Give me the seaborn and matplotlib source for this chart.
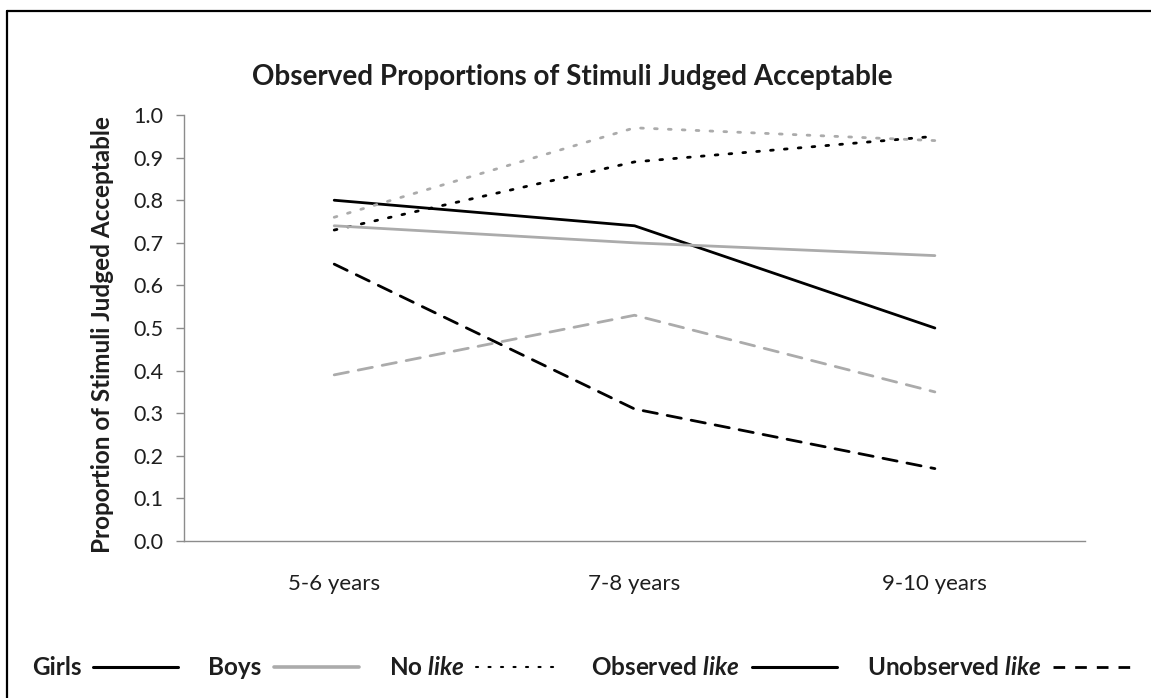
import numpy as np
import pandas as pd
import matplotlib
matplotlib.use("Agg")
import matplotlib.pyplot as plt
from matplotlib.lines import Line2D
import seaborn as sns

# values
age_groups = ["5-6 years", "7-8 years", "9-10 years"]
girls_no_like = [0.73, 0.89, 0.95]
girls_observed = [0.80, 0.74, 0.50]
girls_unobserved = [0.65, 0.31, 0.17]
boys_no_like = [0.76, 0.97, 0.94]
boys_observed = [0.74, 0.70, 0.67]
boys_unobserved = [0.39, 0.53, 0.35]

genders = ["Girls", "Boys"]
conditions = ["No like", "Observed like", "Unobserved like"]

rows = []
for g, series in zip(genders, [[girls_no_like, girls_observed, girls_unobserved],
                               [boys_no_like, boys_observed, boys_unobserved]]):
    for c, vals in zip(conditions, series):
        for a, v in zip(age_groups, vals):
            rows.append({"age": a, "gender": g, "condition": c, "prop": v})
df = pd.DataFrame(rows)

sns.set_theme(style="white")
plt.rcParams["font.family"] = ["Lato", "DejaVu Sans"]
plt.rcParams["mathtext.fontset"] = "custom"
plt.rcParams["mathtext.it"] = "Lato:italic:bold"
plt.rcParams["mathtext.rm"] = "Lato:bold"

BLACK = "#000000"
GRAY = "#ababab"
AXIS_GRAY = "#8c8c8c"
TEXT = "#1e1e1e"
palette = {"Girls": BLACK, "Boys": GRAY}
dashes = {"No like": (1, 4), "Observed like": "", "Unobserved like": (5.2, 3.6)}

fig = plt.figure(figsize=(11.51, 6.98), dpi=100)
ax = fig.add_axes([0.1599, 0.2249, 0.7828, 0.6103])

sns.lineplot(data=df, x="age", y="prop", hue="gender", style="condition",
             palette=palette, dashes=dashes, linewidth=2.0, ax=ax,
             legend=False, sort=False)
for ln in ax.get_lines():
    ln.set_dash_capstyle("round")

ax.set_xlim(-0.5, 2.5)
ax.set_ylim(0, 1.0)
yt = np.arange(0, 1.01, 0.1)
ax.set_yticks(yt)
ax.set_yticklabels([f"{v:.1f}" for v in yt])
ax.set_xticks(range(len(age_groups)))
ax.set_xticklabels(age_groups)
ax.set_xticks([-0.5, 0.5, 1.5, 2.5], minor=True)
ax.tick_params(axis="x", which="major", length=0, pad=24, labelsize=16,
               labelcolor=TEXT)
ax.tick_params(axis="x", which="minor", length=6, width=1, color=AXIS_GRAY,
               direction="out")
ax.tick_params(axis="y", which="major", length=6, width=1, color=AXIS_GRAY,
               direction="out", left=True, labelsize=15.5, pad=9,
               labelcolor=TEXT)
ax.set_xlabel("")
ax.set_ylabel("")
for side in ["top", "right"]:
    ax.spines[side].set_visible(False)
for side in ["left", "bottom"]:
    ax.spines[side].set_color(AXIS_GRAY)
    ax.spines[side].set_linewidth(1.0)

fig.text(0.497, 1 - 85 / 698, "Observed Proportions of Stimuli Judged Acceptable",
         ha="center", va="baseline", fontsize=20, fontweight="bold",
         color=TEXT)
fig.text(103 / 1151, 0.5208, "Proportion of Stimuli Judged Acceptable",
         ha="center", va="center", rotation=90, fontsize=17.5,
         fontweight="bold", color=TEXT)

# legend: gender by colour, condition by line style
handles = [
    Line2D([], [], color=BLACK, lw=2.2),
    Line2D([], [], color=GRAY, lw=2.6),
    Line2D([], [], color=BLACK, lw=1.5, dashes=(1, 5), dash_capstyle="round"),
    Line2D([], [], color=BLACK, lw=2.2),
    Line2D([], [], color=BLACK, lw=2.0, dashes=(4.2, 3.6)),
]
labels = ["Girls", "Boys", "No $like$", "Observed $like$", "Unobserved $like$"]
leg = fig.legend(handles, labels, ncol=5, loc="center",
                 bbox_to_anchor=(0.5082, 0.043), frameon=False,
                 markerfirst=False, handlelength=3.5, handletextpad=0.5,
                 columnspacing=1.23, prop={"size": 17.5, "weight": "bold"})
for t in leg.get_texts():
    t.set_color(TEXT)

# frame edges as in the cropped original
fig.add_artist(Line2D([7 / 1151, 7 / 1151], [0, 1 - 11 / 698], color="black",
                      lw=1.6, transform=fig.transFigure))
fig.add_artist(Line2D([7 / 1151, 1], [1 - 11 / 698, 1 - 11 / 698],
                      color="black", lw=1.6, transform=fig.transFigure))

fig.savefig("out.png", dpi=100)
